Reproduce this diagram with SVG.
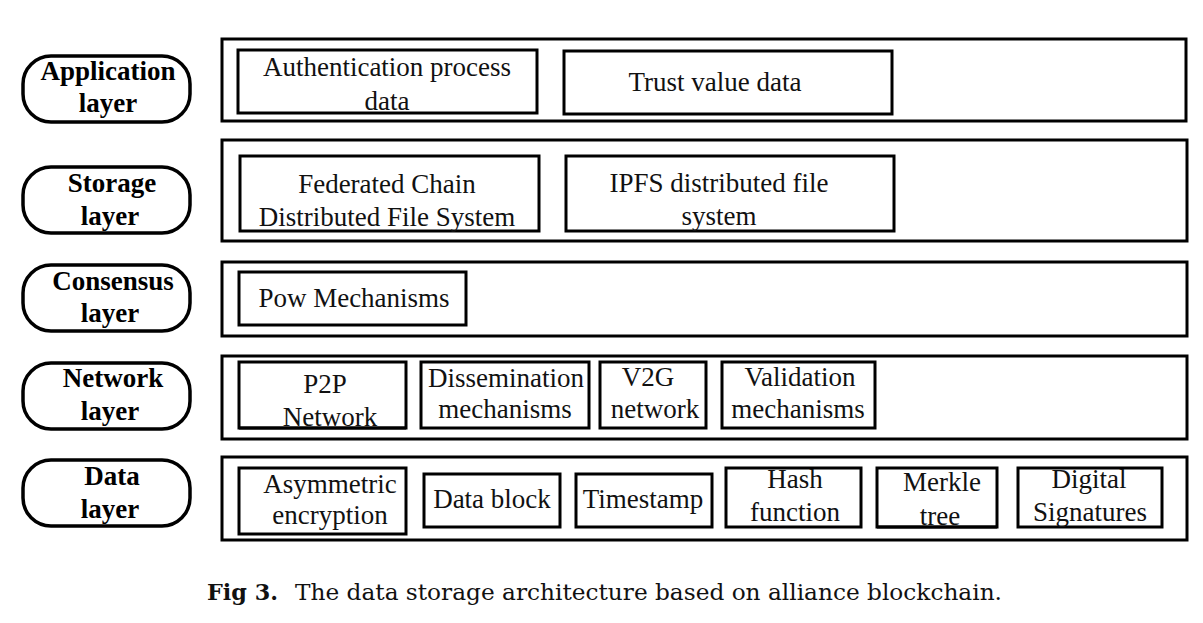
<svg xmlns="http://www.w3.org/2000/svg" width="1203" height="623" viewBox="0 0 1203 623">
<style>
.bg{fill:#fff}
.outer{fill:#fff;stroke:#000;stroke-width:3}
.box{fill:#fff;stroke:#000;stroke-width:3}
.pill{fill:#fff;stroke:#000;stroke-width:3.5}
.t{font-family:"Liberation Serif","Times New Roman",serif;font-size:27px;fill:#111;text-anchor:middle}
.b{font-family:"Liberation Serif","Times New Roman",serif;font-size:27px;font-weight:bold;fill:#000;text-anchor:middle}
.cap{font-family:"DejaVu Serif","Liberation Serif",serif;font-size:23px;fill:#111}
</style>
<rect class="bg" x="0" y="0" width="1203" height="623"/>

<g id="application-layer">
  <rect class="pill" x="23" y="56" width="167" height="66" rx="28"/>
  <text class="b" x="108" y="80">Application</text>
  <text class="b" x="108" y="112">layer</text>
  <rect class="outer" x="222" y="39" width="964" height="82"/>
  <g id="auth-data"><rect class="box" x="238" y="50" width="299" height="63"/>
    <text class="t" x="387" y="76">Authentication process</text>
    <text class="t" x="387" y="110">data</text></g>
  <g id="trust-data"><rect class="box" x="564" y="51" width="328" height="63"/>
    <text class="t" x="715" y="91">Trust value data</text></g>
</g>

<g id="storage-layer">
  <rect class="pill" x="23" y="167" width="167" height="66" rx="28"/>
  <text class="b" x="112" y="192">Storage</text>
  <text class="b" x="110" y="225">layer</text>
  <rect class="outer" x="222" y="140" width="965" height="101"/>
  <g id="federated"><rect class="box" x="240" y="156" width="299" height="75"/>
    <text class="t" x="387" y="193">Federated Chain</text>
    <text class="t" x="387" y="226">Distributed File System</text></g>
  <g id="ipfs"><rect class="box" x="566" y="156" width="328" height="75"/>
    <text class="t" x="719" y="192">IPFS distributed file</text>
    <text class="t" x="719" y="225">system</text></g>
</g>

<g id="consensus-layer">
  <rect class="pill" x="23" y="265" width="167" height="66" rx="28"/>
  <text class="b" x="113" y="290">Consensus</text>
  <text class="b" x="110" y="322">layer</text>
  <rect class="outer" x="222" y="262" width="965" height="74"/>
  <g id="pow"><rect class="box" x="239" y="272" width="227" height="53"/>
    <text class="t" x="354" y="307">Pow Mechanisms</text></g>
</g>

<g id="network-layer">
  <rect class="pill" x="23" y="363" width="167" height="66" rx="28"/>
  <text class="b" x="113" y="387">Network</text>
  <text class="b" x="110" y="420">layer</text>
  <rect class="outer" x="222" y="356" width="965" height="83"/>
  <g id="p2p"><rect class="box" x="239" y="362" width="167" height="66"/>
    <text class="t" x="325" y="393">P2P</text>
    <text class="t" x="330" y="426">Network</text>
    <line x1="239" y1="428" x2="406" y2="428" stroke="#000" stroke-width="3"/></g>
  <g id="dissemination"><rect class="box" x="421" y="362" width="168" height="66"/>
    <text class="t" x="506" y="387">Dissemination</text>
    <text class="t" x="505" y="418">mechanisms</text></g>
  <g id="v2g"><rect class="box" x="600" y="362" width="106" height="66"/>
    <text class="t" x="648" y="386">V2G</text>
    <text class="t" x="655" y="418">network</text></g>
  <g id="validation"><rect class="box" x="722" y="362" width="153" height="66"/>
    <text class="t" x="800" y="386">Validation</text>
    <text class="t" x="798" y="418">mechanisms</text></g>
</g>

<g id="data-layer">
  <rect class="pill" x="23" y="460" width="167" height="66" rx="28"/>
  <text class="b" x="112" y="485">Data</text>
  <text class="b" x="110" y="518">layer</text>
  <rect class="outer" x="222" y="457" width="965" height="83"/>
  <g id="asymmetric"><rect class="box" x="239" y="468" width="167" height="66"/>
    <text class="t" x="330" y="493">Asymmetric</text>
    <text class="t" x="330" y="524">encryption</text></g>
  <g id="data-block"><rect class="box" x="424" y="474" width="136" height="53"/>
    <text class="t" x="492" y="508">Data block</text></g>
  <g id="timestamp"><rect class="box" x="576" y="474" width="136" height="53"/>
    <text class="t" x="643" y="508">Timestamp</text></g>
  <g id="hash"><rect class="box" x="726" y="468" width="135" height="59"/>
    <text class="t" x="795" y="488">Hash</text>
    <text class="t" x="795" y="521">function</text></g>
  <g id="merkle"><rect class="box" x="877" y="468" width="120" height="59"/>
    <text class="t" x="942" y="491">Merkle</text>
    <text class="t" x="940" y="525">tree</text>
    <line x1="877" y1="527" x2="997" y2="527" stroke="#000" stroke-width="3"/></g>
  <g id="digital"><rect class="box" x="1018" y="468" width="144" height="59"/>
    <text class="t" x="1089" y="488">Digital</text>
    <text class="t" x="1090" y="521">Signatures</text></g>
</g>

<g id="connectors"></g>

<text class="cap" x="207" y="600"><tspan font-weight="bold" textLength="71" lengthAdjust="spacingAndGlyphs">Fig 3.</tspan><tspan x="295" textLength="707" lengthAdjust="spacingAndGlyphs">The data storage architecture based on alliance blockchain.</tspan></text>
</svg>
